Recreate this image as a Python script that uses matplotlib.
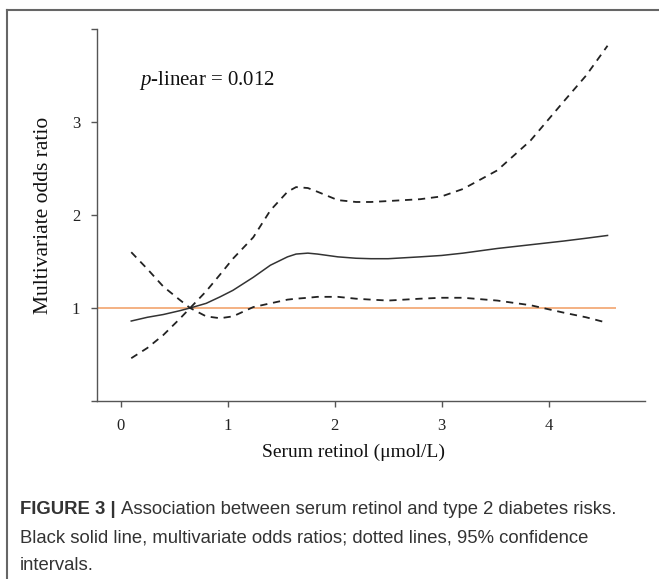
import matplotlib
matplotlib.use("Agg")
import matplotlib.pyplot as plt
from matplotlib.lines import Line2D

plt.rcParams["mathtext.fontset"] = "custom"
plt.rcParams["mathtext.it"] = "Liberation Serif:italic"
plt.rcParams["mathtext.rm"] = "Liberation Serif"

# ── data ─────────────────────────────────────────────────────
retinol = [0.10, 0.25, 0.40, 0.55, 0.65, 0.80, 0.93, 1.05, 1.24, 1.40, 1.56, 1.64, 1.75,
           1.84, 2.03, 2.20, 2.34, 2.50, 2.80, 3.00, 3.20, 3.52, 3.83, 4.14, 4.35, 4.55]
odds_ratio = [0.86, 0.90, 0.93, 0.97, 1.00, 1.05, 1.12, 1.19, 1.33, 1.46, 1.55, 1.58, 1.59,
              1.58, 1.55, 1.535, 1.53, 1.53, 1.55, 1.565, 1.59, 1.64, 1.68, 1.72, 1.75, 1.78]
ci_upper = [0.46, 0.57, 0.71, 0.88, 1.00, 1.18, 1.36, 1.53, 1.76, 2.05, 2.25, 2.30, 2.29,
            2.25, 2.16, 2.14, 2.14, 2.15, 2.17, 2.20, 2.28, 2.48, 2.80, 3.22, 3.50, 3.82]
ci_lower = [1.60, 1.42, 1.23, 1.09, 1.00, 0.91, 0.89, 0.91, 1.01, 1.05, 1.09, 1.10, 1.11,
            1.12, 1.12, 1.10, 1.09, 1.08, 1.10, 1.11, 1.11, 1.08, 1.03, 0.95, 0.90, 0.84]

ref_level = 1.0
ref_x_end = 4.63
x_ticks = [0, 1, 2, 3, 4]
y_ticks = [0, 1, 2, 3, 4]
y_tick_labels = ["", "1", "2", "3", ""]
p_text = "$p$-linear = 0.012"

caption_bold = "FIGURE 3 | "
caption_lines = ["Association between serum retinol and type 2 diabetes risks.",
                 "Black solid line, multivariate odds ratios; dotted lines, 95% confidence",
                 "intervals."]

# ── figure ───────────────────────────────────────────────────
W, H = 659, 579
fig = plt.figure(figsize=(W / 100, H / 100), dpi=100)
ax = fig.add_axes([97 / W, 1 - 401 / H, (645 - 97) / W, (401 - 29) / H])

serif = "Liberation Serif"
axis_col = "#555555"

xmin, xmax = -0.22, 4.9
ax.hlines(ref_level, xmin, ref_x_end, color="#f4b183", lw=1.4, zorder=1)
ax.plot(retinol, odds_ratio, color="#333333", lw=1.1, zorder=3)
ax.plot(retinol, ci_upper, color="#222222", lw=1.3, dashes=(4, 3.2), zorder=3)
ax.plot(retinol, ci_lower, color="#222222", lw=1.3, dashes=(4, 3.2), zorder=3)

ax.set_xlim(xmin, xmax)
ax.set_ylim(0, 4)
ax.set_xticks(x_ticks)
ax.set_xticklabels([str(t) for t in x_ticks])
ax.set_yticks(y_ticks)
ax.set_yticklabels(y_tick_labels)
for s in ["top", "right"]:
    ax.spines[s].set_visible(False)
for s in ["left", "bottom"]:
    ax.spines[s].set_color(axis_col)
    ax.spines[s].set_linewidth(1.0)
ax.tick_params(direction="out", length=4, width=1, color=axis_col,
               labelsize=12, pad=8)
for lab in ax.get_xticklabels() + ax.get_yticklabels():
    lab.set_fontfamily(serif)
    lab.set_color("#222222")

ax.set_xlabel("Serum retinol (μmol/L)", fontsize=14, family=serif, color="#111111")
ax.xaxis.set_label_coords((354 - 97) / (645 - 97), -0.115)
ax.set_ylabel("Multivariate odds ratio", fontsize=15.5, family=serif, color="#111111", labelpad=14)

ax.text(0.17, 3.45, p_text, fontsize=15, family=serif, color="#111111", va="center")

# frame around the figure panel
fig.add_artist(Line2D([7 / W, 1], [1 - 10 / H, 1 - 10 / H], color="#666666", lw=1.5))
fig.add_artist(Line2D([7 / W, 7 / W], [0, 1 - 10 / H], color="#666666", lw=1.5))

# caption
cap_font = "Liberation Sans"
cap_col = "#333333"
cap_size = 13.3
x0 = 20 / W
y_rows = [510, 538, 566]
t = fig.text(x0, 1 - y_rows[0] / H, caption_bold, fontsize=cap_size, family=cap_font,
             weight="bold", color=cap_col, va="center")
fig.canvas.draw()
bb = t.get_window_extent(renderer=fig.canvas.get_renderer())
x1 = bb.x1 / W
fig.text(x1, 1 - y_rows[0] / H, caption_lines[0], fontsize=cap_size, family=cap_font,
         color=cap_col, va="center")
for row, line in zip(y_rows[1:], caption_lines[1:]):
    fig.text(x0, 1 - row / H, line, fontsize=cap_size, family=cap_font, color=cap_col, va="center")

fig.savefig("out.png", dpi=100)
